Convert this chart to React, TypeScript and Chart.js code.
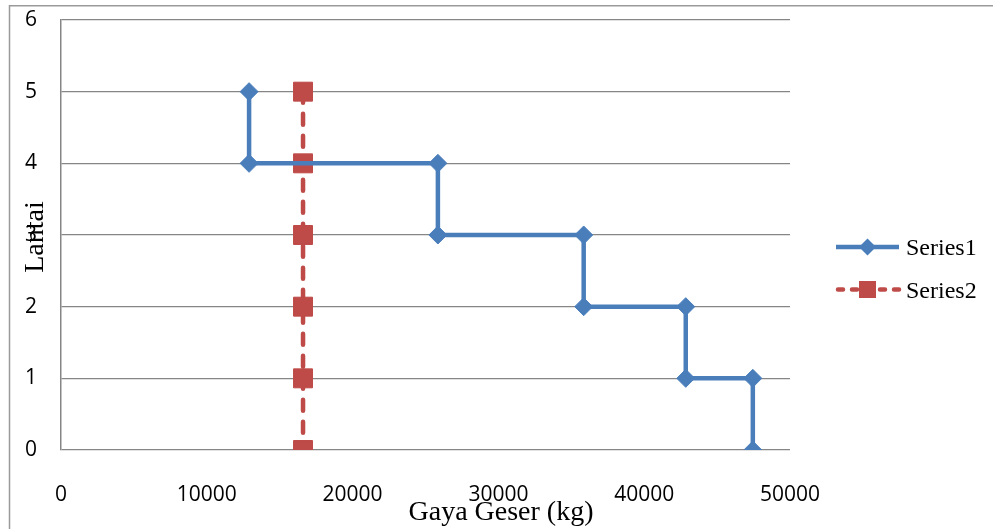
import React, { useEffect, useRef } from "react";
import { Chart, registerables } from "chart.js";

Chart.register(...registerables);

const series1Label = "Series1";
const series1X = [12900, 12900, 25850, 25850, 35850, 35850, 42850, 42850, 47450, 47450];
const series1Y = [5, 4, 4, 3, 3, 2, 2, 1, 1, 0];

const series2Label = "Series2";
const series2X = [16600, 16600, 16600, 16600, 16600, 16600];
const series2Y = [5, 4, 3, 2, 1, 0];

const xTitle = "Gaya Geser (kg)";
const yTitle = "Lantai";
const xMin = 0, xMax = 50000, xStep = 10000;
const yMin = 0, yMax = 6, yStep = 1;

const BLUE = "#4a7ebb";
const RED = "#be4b48";
const GRID = "#868686";

const overlayPlugin = {
  id: "overlay",
  beforeDraw(chart: any) {
    const ctx = chart.ctx;
    ctx.save();
    ctx.strokeStyle = "#9a9a9a";
    ctx.lineWidth = 1.5;
    ctx.beginPath();
    ctx.moveTo(9.5, 529);
    ctx.lineTo(9.5, 5.75);
    ctx.lineTo(993, 5.75);
    ctx.stroke();
    ctx.restore();
  },
  afterDraw(chart: any) {
    const ctx = chart.ctx;
    ctx.save();
    ctx.fillStyle = "#000";
    ctx.font = '28px "Liberation Serif"';
    ctx.textAlign = "center";
    ctx.textBaseline = "alphabetic";
    ctx.fillText(xTitle, 501, 520);
    ctx.save();
    ctx.translate(43, 237);
    ctx.rotate(-Math.PI / 2);
    ctx.fillText(yTitle, 0, 0);
    ctx.restore();

    const ds = chart.data.datasets;
    ds.forEach((d: any, i: number) => {
      const y = 247 + i * 42.5;
      ctx.save();
      ctx.strokeStyle = d.borderColor;
      ctx.lineWidth = d.borderWidth;
      ctx.lineCap = d.borderCapStyle || "butt";
      ctx.setLineDash(d.borderDash ? [5, 9] : []);
      ctx.beginPath();
      ctx.moveTo(d.borderDash ? 838 : 836, y);
      ctx.lineTo(899, y);
      ctx.stroke();
      ctx.setLineDash([]);
      ctx.fillStyle = d.pointBackgroundColor;
      const cx = 867.5;
      ctx.beginPath();
      if (d.pointStyle === "rectRot") {
        const r = 8.5;
        ctx.moveTo(cx, y - r);
        ctx.lineTo(cx + r, y);
        ctx.lineTo(cx, y + r);
        ctx.lineTo(cx - r, y);
        ctx.closePath();
      } else {
        const h = 8.5;
        ctx.rect(cx - h, y - h, 2 * h, 2 * h);
      }
      ctx.fill();
      ctx.restore();
      ctx.fillStyle = "#000";
      ctx.font = '24px "Liberation Serif"';
      ctx.textAlign = "left";
      ctx.textBaseline = "middle";
      ctx.fillText(d.label, 906, y + 2);
    });
    ctx.restore();
  },
};

export default function App() {
  const ref = useRef<HTMLCanvasElement | null>(null);
  useEffect(() => {
    if (!ref.current) return;
    const chart = new Chart(ref.current, {
      type: "scatter",
      data: {
        datasets: [
          {
            label: series1Label,
            data: series1X.map((x, i) => ({ x, y: series1Y[i] })),
            showLine: true,
            borderColor: BLUE,
            backgroundColor: BLUE,
            borderWidth: 4.5,
            pointStyle: "rectRot",
            pointRadius: 9,
            pointBackgroundColor: BLUE,
            pointBorderColor: BLUE,
            pointBorderWidth: 1,
          } as any,
          {
            label: series2Label,
            data: series2X.map((x, i) => ({ x, y: series2Y[i] })),
            showLine: true,
            borderColor: RED,
            backgroundColor: RED,
            borderWidth: 4.5,
            borderDash: [11, 11],
            borderCapStyle: "round",
            pointStyle: "rect",
            pointRadius: 13.4,
            pointBackgroundColor: RED,
            pointBorderColor: RED,
            pointBorderWidth: 1,
          } as any,
        ],
      },
      options: {
        responsive: false,
        animation: false,
        layout: { padding: { left: 0, right: 204, top: 20, bottom: 0 } },
        plugins: {
          legend: { display: false },
          tooltip: { enabled: false },
        },
        scales: {
          x: {
            type: "linear",
            min: xMin,
            max: xMax,
            ticks: {
              stepSize: xStep,
              color: "#000",
              font: { family: '"Open Sans"', size: 21 },
              padding: 24,
              maxRotation: 0,
              callback: (v: any) => String(v),
            },
            grid: { display: false },
            border: { display: false },
            afterFit: (s: any) => {
              s.height = 79;
              s.paddingLeft = 0;
              s.paddingRight = 0;
            },
          },
          y: {
            type: "linear",
            min: yMin,
            max: yMax,
            ticks: {
              stepSize: yStep,
              color: "#000",
              font: { family: '"Open Sans"', size: 21 },
              padding: 24,
              callback: (v: any) => String(v),
            },
            grid: { color: GRID, lineWidth: 1.3, drawTicks: false },
            border: { display: true, color: GRID, width: 1.5 },
            afterFit: (s: any) => {
              s.width = 61;
              s.paddingTop = 0;
              s.paddingBottom = 0;
            },
          },
        },
      },
      plugins: [overlayPlugin],
    });
    return () => chart.destroy();
  }, []);
  return (
    <div style={{ position: "absolute", left: 0, top: 0, width: 994, height: 529, background: "#fff" }}>
      <canvas ref={ref} width={994} height={529} />
    </div>
  );
}
